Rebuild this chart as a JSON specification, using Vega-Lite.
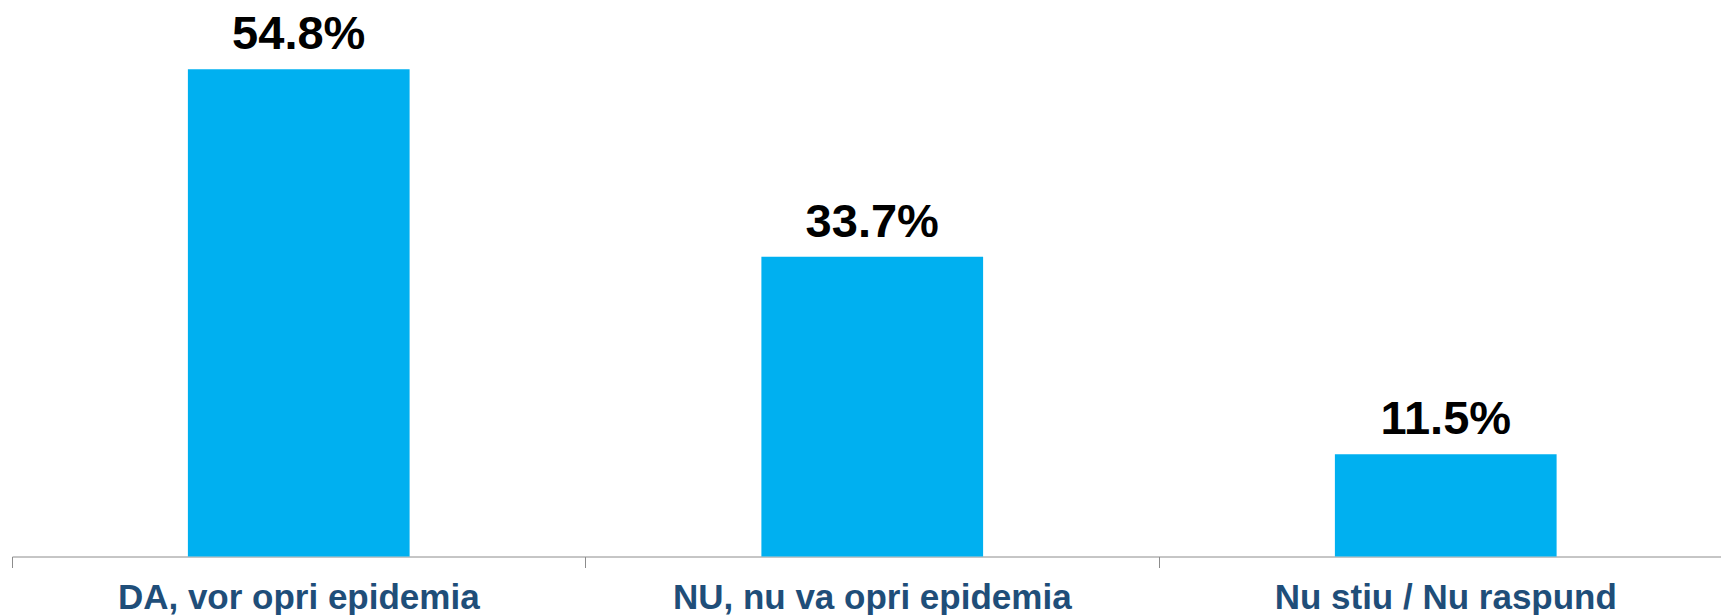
{
  "$schema": "https://vega.github.io/schema/vega-lite/v6.json",
  "autosize": {"type": "none"},
  "padding": {"left": 12, "top": 23, "right": 0, "bottom": 58.5},
  "width": 1720.5,
  "height": 533.5,
  "background": "white",
  "config": {"view": {"stroke": null}, "font": "Liberation Sans"},
  "data": {"values": [
    {"answer": "DA, vor opri epidemia", "share": 0.548},
    {"answer": "NU, nu va opri epidemia", "share": 0.337},
    {"answer": "Nu stiu / Nu raspund", "share": 0.115}
  ]},
  "encoding": {
    "x": {"field": "answer", "type": "nominal", "sort": null,
      "scale": {"paddingInner": 0, "paddingOuter": 0},
      "axis": {"title": null, "labelAngle": 0, "bandPosition": 0,
        "labelFont": "Liberation Sans", "labelFontSize": 35, "labelFontWeight": "bold",
        "labelColor": "#1F4E79", "domainColor": "#8c8c8c", "tickColor": "#8c8c8c",
        "tickSize": 11, "labelPadding": 13, "grid": false, "labelBound": false,
        "labelOverlap": false, "labelLimit": 0}},
    "y": {"field": "share", "type": "quantitative",
      "scale": {"domain": [0, 0.6]}, "axis": null}
  },
  "layer": [
    {"mark": {"type": "bar", "color": "#00B0F0", "width": {"band": 0.3866}}},
    {"mark": {"type": "text", "baseline": "alphabetic", "dy": -20, "font": "Liberation Sans",
      "fontSize": 47, "fontWeight": "bold", "color": "#000000"},
     "encoding": {"text": {"field": "share", "type": "quantitative", "format": ".1%"}}}
  ]
}
